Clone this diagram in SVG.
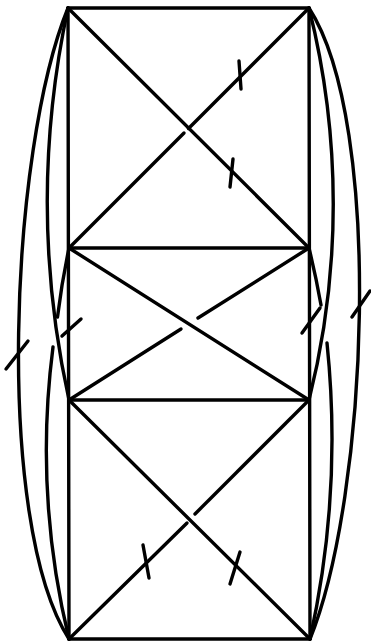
<svg xmlns="http://www.w3.org/2000/svg" width="371" height="643" viewBox="0 0 371 643">
<style>
.e{fill:none;stroke:#000;stroke-width:3.4;stroke-linecap:round;stroke-linejoin:round}
.n{fill:#000}
</style>
<rect width="371" height="643" fill="#fff"/>
<g id="connectors">
<path class="e" d="M68,8 L309,8"/>
<path class="e" d="M69,639 L310,639"/>
<path class="e" d="M68,8 L69,639"/>
<path class="e" d="M309,8 L310,639"/>
<path class="e" d="M69,248 L309,248"/>
<path class="e" d="M69,400 L309,400"/>
<path class="e" d="M68,8 L309,248"/>
<path class="e" d="M309,8 L188.5,128.5"/>
<path class="e" d="M184,133 L69,248"/>
<path class="e" d="M69,248 L309,400"/>
<path class="e" d="M309,248 L198,318"/>
<path class="e" d="M181,329 L69,400"/>
<path class="e" d="M69,400 L310,639"/>
<path class="e" d="M309,400 L195,514"/>
<path class="e" d="M187,523 L69,639"/>
<path class="e" d="M68,8 C10,150 -6,522 69,639"/>
<path class="e" d="M309,8 C384,124 368,496 310,639"/>
<path class="e" d="M68,8 A925,925 0 0 0 69,400"/>
<path class="e" d="M309,8 A804,804 0 0 1 309,400"/>
<path class="e" d="M69,248 A804,804 0 0 0 57.5,317"/>
<path class="e" d="M53,347 A804,804 0 0 0 69,639"/>
<path class="e" d="M309,248 A925,925 0 0 1 321,305"/>
<path class="e" d="M327,343 A925,925 0 0 1 310,639"/>
<path class="e" d="M6,369 L28,341"/>
<path class="e" d="M62,336 L81,319"/>
<path class="e" d="M352,317 L370,291"/>
<path class="e" d="M302,333 L320,308"/>
<path class="e" d="M239,61 L241,89"/>
<path class="e" d="M233,159 L230,187"/>
<path class="e" d="M143,545 L149,578"/>
<path class="e" d="M240,552 L230,584"/>
</g>
<g id="n1"><circle class="n" cx="68" cy="8" r="1.5"/></g>
<g id="n2"><circle class="n" cx="309" cy="8" r="1.5"/></g>
<g id="n3"><circle class="n" cx="69" cy="248" r="1.5"/></g>
<g id="n4"><circle class="n" cx="309" cy="248" r="1.5"/></g>
<g id="n5"><circle class="n" cx="69" cy="400" r="1.5"/></g>
<g id="n6"><circle class="n" cx="309" cy="400" r="1.5"/></g>
<g id="n7"><circle class="n" cx="69" cy="639" r="1.5"/></g>
<g id="n8"><circle class="n" cx="310" cy="639" r="1.5"/></g>
</svg>
